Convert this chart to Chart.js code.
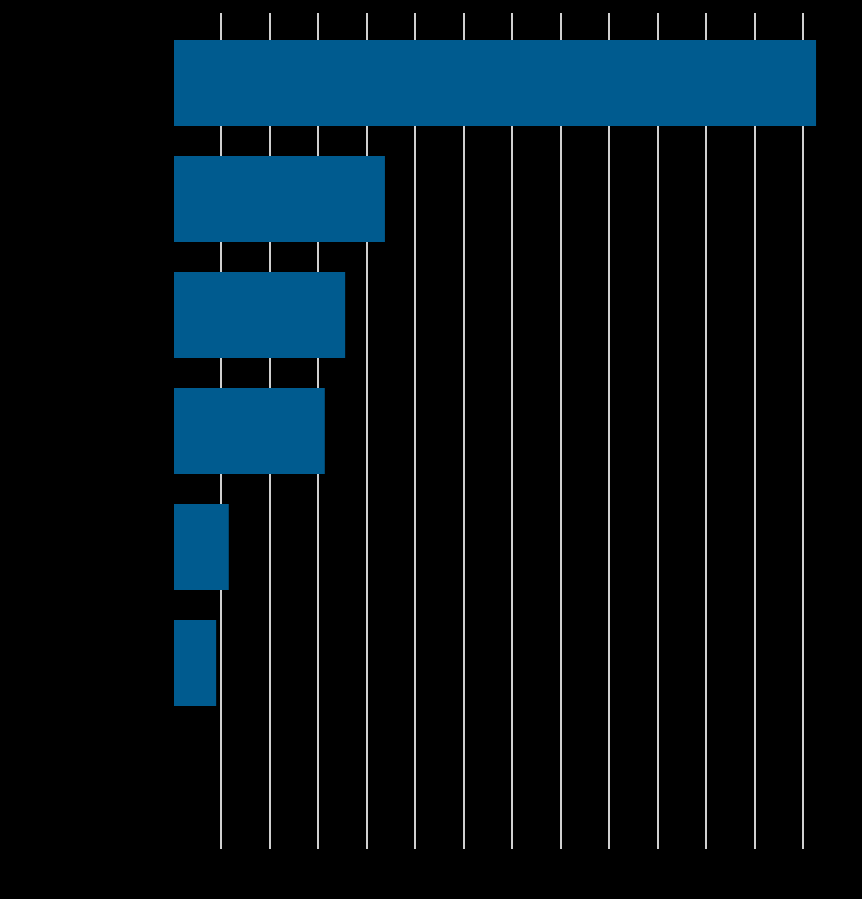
<!DOCTYPE html>
<html lang="en">
<head>
    <meta charset="UTF-8">
    <title>Bar chart</title>
    <script src="https://cdn.jsdelivr.net/npm/chart.js"></script>
    <style>
        html, body {
        margin: 0;
        padding: 0;
        background-color: #000000;
        }
        #wrap {
        width: 862px;
        height: 899px;
        }
    </style>
</head>
<body>
    <div id="wrap"><canvas id="barChart"></canvas></div>
    <script>
        const categories = ['Category 1', 'Category 2', 'Category 3', 'Category 4', 'Category 5', 'Category 6', 'Category 7'];
        const values = [13.26, 4.37, 3.55, 3.13, 1.15, 0.89, 0];
        const tickValues = [0, 1, 2, 3, 4, 5, 6, 7, 8, 9, 10, 11, 12, 13];

        const keepTicks = scale => {
            scale.ticks = tickValues.map(v => ({ value: v }));
        };

        new Chart(document.getElementById('barChart'), {
            type: 'bar',
            data: {
            labels: categories,
            datasets: [{
                data: values,
                backgroundColor: '#005b8f',
                borderWidth: 0,
                categoryPercentage: 1,
                barPercentage: 0.74
            }]
            },
            options: {
            indexAxis: 'y',
            responsive: true,
            maintainAspectRatio: false,
            animation: false,
            layout: { padding: { right: 44, left: 0, top: 0, bottom: 0 } },
            plugins: {
                legend: { display: false },
                tooltip: { enabled: false }
            },
            scales: {
                x: {
                position: 'bottom',
                min: 0,
                max: 13.3,
                afterBuildTicks: keepTicks,
                afterFit: s => { s.height = 62; },
                border: { display: false },
                grid: {
                    color: c => c.tick && c.tick.value === 0 ? 'rgba(0,0,0,0)' : '#d0d0d0',
                    lineWidth: 2,
                    tickLength: 12
                },
                ticks: { color: '#000000', font: { size: 11 } }
                },
                x2: {
                position: 'top',
                min: 0,
                max: 13.3,
                afterBuildTicks: keepTicks,
                afterFit: s => { s.height = 25; },
                border: { display: false },
                grid: {
                    drawOnChartArea: false,
                    color: c => c.tick && c.tick.value === 0 ? 'rgba(0,0,0,0)' : '#d0d0d0',
                    lineWidth: 2,
                    tickLength: 12
                },
                ticks: { color: '#000000', font: { size: 11 } }
                },
                y: {
                afterFit: s => { s.width = 173; },
                border: { display: false },
                grid: { display: false },
                ticks: { color: '#000000', font: { size: 12 } }
                }
            }
            }
        });
    </script>
</body>
</html>
